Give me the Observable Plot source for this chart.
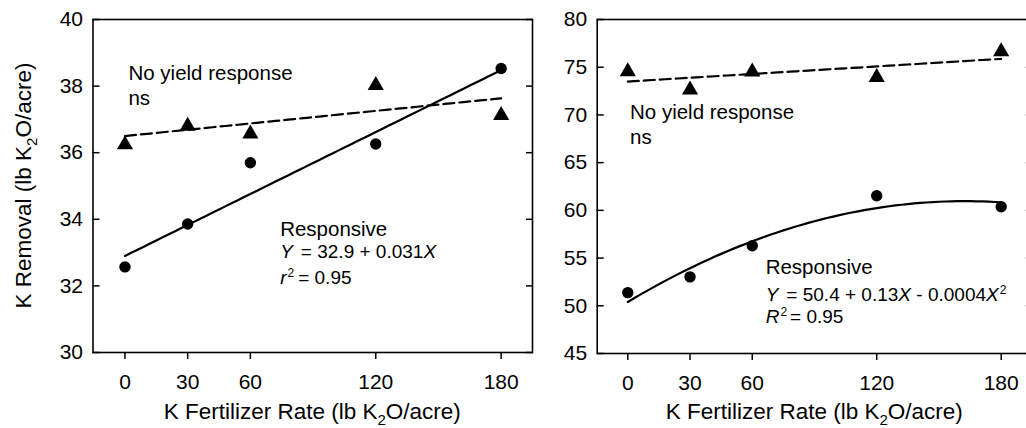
<!DOCTYPE html>
<html><head><meta charset="utf-8">
<script src="https://cdn.jsdelivr.net/npm/d3@7"></script>
<script src="https://cdn.jsdelivr.net/npm/@observablehq/plot@0.6"></script>
<style>
html,body{margin:0;padding:0;background:#fff;overflow:hidden;}
#wrap{position:relative;width:1026px;height:428px;overflow:hidden;font-family:"Liberation Sans",Arial,sans-serif;}
#wrap svg{position:absolute;top:0;}
</style></head><body><div id="wrap"></div>
<script>
// ---- data ----
const rates = [0, 30, 60, 120, 180];
const xTicks = [0, 30, 60, 120, 180];
const leftYTicks = [30, 32, 34, 36, 38, 40];
const rightYTicks = [45, 50, 55, 60, 65, 70, 75, 80];
const leftNoResponse = [36.24, 36.80, 36.57, 38.02, 37.12];
const leftResponsive = [32.57, 33.86, 35.70, 36.26, 38.53];
const rightNoResponse = [74.54, 72.62, 74.51, 73.95, 76.64];
const rightResponsive = [51.38, 53.03, 56.29, 61.53, 60.38];
// regression coefficients (intercept, linear, quadratic)
const leftRespCoef = [32.9, 0.031, 0];
const leftNoCoef = [36.5, 0.0063, 0];
const rightRespCoef = [50.4, 0.13, -0.0004];
const rightNoCoef = [73.5, 0.0132, 0];
const fitX = d3.range(0, 181, 3);

const FONT = "Liberation Sans, Arial, Helvetica, sans-serif";

function pts(vals) { return rates.map((x, i) => ({x, y: vals[i]})); }
function fit(c) { return fitX.map(x => ({x, y: c[0] + c[1]*x + c[2]*x*x})); }

function panel(o) {
  const svg = Plot.plot({
    width: o.width, height: 428,
    marginTop: 19, marginBottom: o.marginBottom, marginLeft: o.marginLeft, marginRight: o.marginRight,
    style: {fontFamily: FONT, fontSize: "21px", color: "#000", background: "transparent", overflow: "visible"},
    x: {domain: o.xDomain},
    y: {domain: o.yDomain},
    marks: [
      Plot.frame({stroke: "#000", strokeWidth: 1.6}),
      Plot.axisX(xTicks, {anchor: "bottom", tickSize: 7, tickPadding: 15, strokeWidth: 1.5, label: null, fontSize: 21}),
      Plot.axisY(o.yTicks, {anchor: "left", tickSize: 0, tickPadding: 10, label: null, fontSize: 21}),
      Plot.axisY(o.yTicks, {anchor: "left", tickSize: 7, dx: 7, fill: "none", label: null, strokeWidth: 1.5}),
      Plot.axisY(o.yTicks, {anchor: "right", tickSize: 7, dx: -7, fill: "none", label: null, strokeWidth: 1.5}),
      Plot.line(fit(o.noCoef), {x: "x", y: "y", stroke: "#000", strokeWidth: 2.2, strokeDasharray: "11,5"}),
      Plot.line(fit(o.respCoef), {x: "x", y: "y", stroke: "#000", strokeWidth: 2.2, curve: "linear"}),
      Plot.dot(pts(o.noResp), {x: "x", y: "y", symbol: "triangle", r: 6, fill: "#000", stroke: null}),
      Plot.dot(pts(o.resp), {x: "x", y: "y", symbol: "circle", r: 5.7, fill: "#000", stroke: null})
    ]
  });
  svg.style.left = o.left + "px";
  const sx = svg.scale("x"), sy = svg.scale("y");
  const g = d3.select(svg).append("g").attr("font-family", FONT).attr("fill", "#000");
  for (const a of o.notes) {
    const t = g.append("text").attr("x", sx.apply(a.x)).attr("y", sy.apply(a.y))
      .attr("dy", "0.35em").attr("text-anchor", "start").attr("font-size", a.size || 20.5);
    for (const p of a.parts) {
      const ts = t.append("tspan").text(p.t);
      if (p.i) ts.attr("font-style", "italic");
      if (p.dx) ts.attr("dx", p.dx);
      if (p.sup) ts.attr("font-size", 12).attr("dy", -7);
      if (p.down) ts.attr("dy", 7);
    }
  }
  const fx0 = o.marginLeft, fx1 = o.width - o.marginRight;
  if (o.xTitle) {
    const t = g.append("text").attr("x", (fx0 + fx1) / 2).attr("y", 419).attr("text-anchor", "middle").attr("font-size", 22.5);
    t.append("tspan").text("K Fertilizer Rate (lb K");
    t.append("tspan").text("2").attr("font-size", 15).attr("dy", 6);
    t.append("tspan").text("O/acre)").attr("dy", -6);
  }
  if (o.yTitle) {
    const cy = (19 + 428 - o.marginBottom) / 2;
    const t = g.append("text").attr("transform", `translate(31,${cy}) rotate(-90)`).attr("text-anchor", "middle").attr("font-size", 22.5);
    t.append("tspan").text("K Removal (lb K");
    t.append("tspan").text("2").attr("font-size", 15).attr("dy", 6);
    t.append("tspan").text("O/acre)").attr("dy", -6);
  }
  document.getElementById("wrap").appendChild(svg);
}

panel({
  left: 0, width: 540, marginLeft: 92.5, marginRight: 8, marginBottom: 76,
  xDomain: [-15.3, 195], yDomain: [30, 40], yTicks: leftYTicks,
  noResp: leftNoResponse, resp: leftResponsive, noCoef: leftNoCoef, respCoef: leftRespCoef,
  xTitle: true, yTitle: true,
  notes: [
    {x: 1.9, y: 38.37, parts: [{t: "No yield response"}]},
    {x: 1.9, y: 37.62, parts: [{t: "ns"}]},
    {x: 74.5, y: 33.70, parts: [{t: "Responsive"}]},
    {x: 74.5, y: 33.02, size: 19, parts: [{t: "Y", i: true}, {t: "= 32.9 + 0.031", dx: 8}, {t: "X", i: true}]},
    {x: 74.5, y: 32.24, size: 19, parts: [{t: "r", i: true}, {t: "2", sup: true, dx: 1}, {t: "= 0.95", dx: 4, down: true}]}
  ]
});

panel({
  left: 500, width: 560, marginLeft: 96.7, marginRight: 28.2, marginBottom: 75,
  xDomain: [-14.75, 195], yDomain: [45, 80], yTicks: rightYTicks,
  noResp: rightNoResponse, resp: rightResponsive, noCoef: rightNoCoef, respCoef: rightRespCoef,
  xTitle: true, yTitle: false,
  notes: [
    {x: 1.3, y: 70.24, parts: [{t: "No yield response"}]},
    {x: 1.3, y: 67.62, parts: [{t: "ns"}]},
    {x: 66.7, y: 54.0, parts: [{t: "Responsive"}]},
    {x: 66.7, y: 51.14, size: 19, parts: [{t: "Y", i: true}, {t: "= 50.4 + 0.13", dx: 8}, {t: "X", i: true}, {t: " - 0.0004"}, {t: "X", i: true}, {t: "2", sup: true, dx: 1}]},
    {x: 66.7, y: 48.84, size: 19, parts: [{t: "R", i: true}, {t: "2", sup: true, dx: 1}, {t: "= 0.95", dx: 3, down: true}]}
  ]
});
</script>
</body></html>
